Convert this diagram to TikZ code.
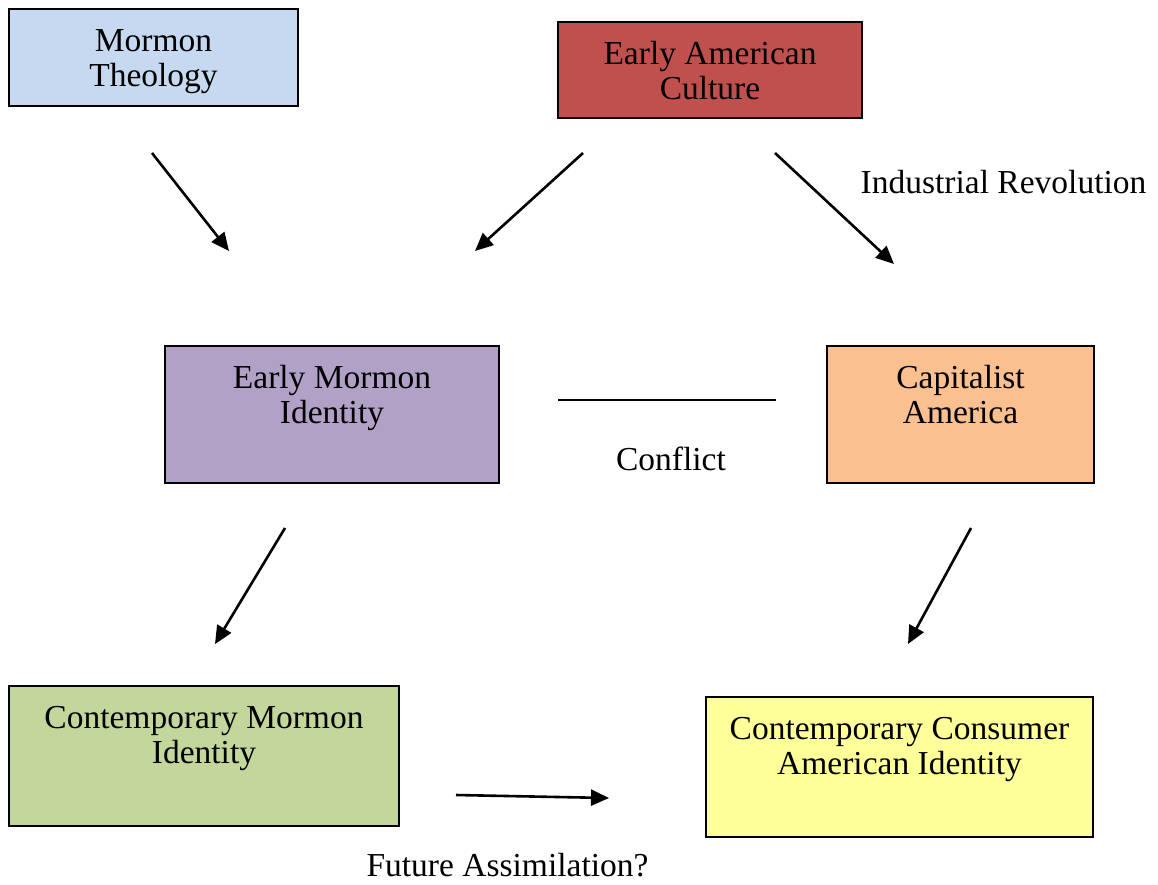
\documentclass[tikz,border=0pt]{standalone}
\usepackage{fontspec}
\setmainfont{Liberation Serif}
\usetikzlibrary{arrows.meta}

\definecolor{theoblue}{HTML}{C6D9F1}
\definecolor{culturered}{HTML}{C0504D}
\definecolor{earlypurple}{HTML}{B2A1C7}
\definecolor{capitalorange}{HTML}{FAC090}
\definecolor{contgreen}{HTML}{C3D69B}
\definecolor{consumeryellow}{HTML}{FFFF99}

\newcommand{\boxtext}[3]{\parbox[b][#2][t]{#1}{\centering
  \fontsize{33.5}{35}\selectfont\rule{0pt}{42pt}#3}}

\begin{document}
\begin{tikzpicture}[x=1pt,y=-1pt,
  idbox/.style={draw=black, line width=2pt, anchor=north west, inner sep=0pt, outer sep=0pt},
  link/.style={line width=2.6pt, -{Triangle[length=18pt,width=16pt]}},
  tag/.style={anchor=base, inner sep=0pt, font=\fontsize{33.5}{35}\selectfont}]
  \useasboundingbox (0,0) rectangle (1158,884);

  \node[idbox, fill=theoblue] (theology) at (9,9)
    {\boxtext{289pt}{97pt}{Mormon\\Theology}};
  \node[idbox, fill=culturered] (culture) at (558,22)
    {\boxtext{304pt}{96pt}{Early American\\Culture}};
  \node[idbox, fill=earlypurple] (earlymormon) at (165,346)
    {\boxtext{334pt}{137pt}{Early Mormon\\Identity}};
  \node[idbox, fill=capitalorange] (capitalist) at (827,346)
    {\boxtext{267pt}{137pt}{Capitalist\\America}};
  \node[idbox, fill=contgreen] (contmormon) at (9,686)
    {\boxtext{390pt}{140pt}{Contemporary Mormon\\Identity}};
  \node[idbox, fill=consumeryellow] (consumer) at (706,697)
    {\boxtext{387pt}{140pt}{Contemporary Consumer\\American Identity}};

  \node[tag] (industrial) at (1003.5,193) {Industrial Revolution};
  \node[tag] (conflict) at (671,470) {Conflict};
  \node[tag] (assimilation) at (507.5,876) {Future Assimilation?};

  \coordinate (theo-a) at (152,153);
  \coordinate (theo-b) at (229,251);
  \coordinate (cult-a) at (583,153);
  \coordinate (cult-b) at (475,251);
  \coordinate (ind-a) at (775,153);
  \coordinate (ind-b) at (894,264);
  \coordinate (conf-a) at (558,400);
  \coordinate (conf-b) at (776,400);
  \coordinate (em-a) at (285,528);
  \coordinate (em-b) at (215,644);
  \coordinate (cap-a) at (971,528);
  \coordinate (cap-b) at (908,644);
  \coordinate (fut-a) at (456,795);
  \coordinate (fut-b) at (609,798);

  \draw[link] (theo-a) -- (theo-b);
  \draw[link] (cult-a) -- (cult-b);
  \draw[link] (ind-a) -- (ind-b);
  \draw[line width=2pt] (conf-a) -- (conf-b);
  \draw[link] (em-a) -- (em-b);
  \draw[link] (cap-a) -- (cap-b);
  \draw[link] (fut-a) -- (fut-b);
\end{tikzpicture}
\end{document}
